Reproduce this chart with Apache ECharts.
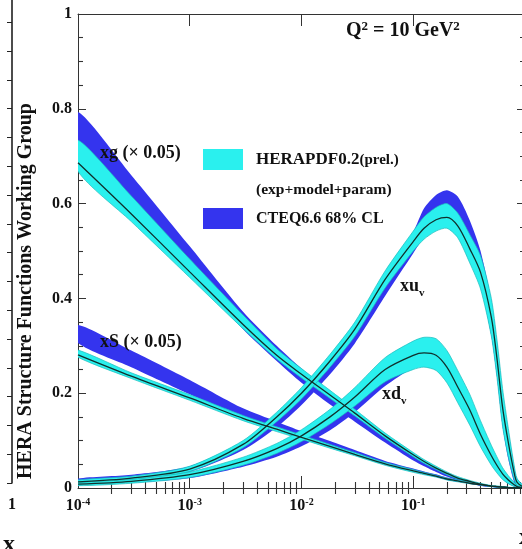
<!DOCTYPE html>
<html>
<head>
<meta charset="utf-8">
<script src="https://cdn.jsdelivr.net/npm/echarts@6/dist/echarts.min.js"></script>
<style>
html, body { margin: 0; padding: 0; background: #fff; }
#chart { width: 522px; height: 549px; }
</style>
</head>
<body>
<div id="chart"></div>
<script>
// Parton momentum distributions at Q^2 = 10 GeV^2, sampled on a common x grid
const xs = [0.0001, 0.0003, 0.001, 0.003, 0.006, 0.01, 0.018, 0.03, 0.056, 0.1, 0.125, 0.16,
            0.2, 0.25, 0.32, 0.4, 0.5, 0.56, 0.63, 0.71, 0.8, 0.85, 1.0];

// gluon, scaled by 0.05
const xgMid    = [0.686, 0.578, 0.456, 0.345, 0.28, 0.24, 0.196, 0.158, 0.11, 0.07, 0.056, 0.042, 0.031, 0.021, 0.014, 0.008, 0.004, 0.003, 0.002, 0.001, 0.0005, 0.0003, 0];
const xgHeraLo = [0.668, 0.562, 0.444, 0.336, 0.272, 0.232, 0.189, 0.152, 0.105, 0.066, 0.052, 0.039, 0.028, 0.019, 0.012, 0.007, 0.003, 0.002, 0.001, 0.0005, 0, 0, 0];
const xgHeraHi = [0.734, 0.616, 0.483, 0.365, 0.294, 0.252, 0.206, 0.166, 0.116, 0.075, 0.06, 0.046, 0.034, 0.024, 0.016, 0.01, 0.005, 0.004, 0.003, 0.0015, 0.001, 0.001, 0];
const xgCteqLo = [0.70, 0.59, 0.46, 0.335, 0.268, 0.222, 0.176, 0.14, 0.096, 0.058, 0.046, 0.034, 0.024, 0.016, 0.01, 0.005, 0.002, 0.001, 0.001, 0, 0, 0, 0];
const xgCteqHi = [0.793, 0.66, 0.51, 0.372, 0.30, 0.252, 0.202, 0.162, 0.112, 0.071, 0.057, 0.043, 0.031, 0.022, 0.014, 0.009, 0.005, 0.003, 0.002, 0.001, 0.001, 0.001, 0];

// sea, scaled by 0.05
const xsMid    = [0.281, 0.236, 0.19, 0.147, 0.124, 0.107, 0.088, 0.071, 0.051, 0.036, 0.031, 0.025, 0.019, 0.015, 0.01, 0.007, 0.004, 0.003, 0.002, 0.001, 0.0005, 0.0003, 0];
const xsHeraLo = [0.276, 0.231, 0.185, 0.142, 0.119, 0.103, 0.084, 0.068, 0.048, 0.033, 0.028, 0.023, 0.017, 0.013, 0.009, 0.006, 0.003, 0.002, 0.001, 0.0005, 0, 0, 0];
const xsHeraHi = [0.291, 0.243, 0.197, 0.153, 0.129, 0.112, 0.092, 0.075, 0.054, 0.039, 0.033, 0.027, 0.021, 0.017, 0.012, 0.008, 0.005, 0.004, 0.003, 0.0015, 0.001, 0.001, 0];
const xsCteqLo = [0.306, 0.255, 0.198, 0.15, 0.126, 0.108, 0.088, 0.07, 0.05, 0.034, 0.029, 0.023, 0.017, 0.013, 0.009, 0.005, 0.002, 0.001, 0.001, 0, 0, 0, 0];
const xsCteqHi = [0.344, 0.29, 0.228, 0.168, 0.14, 0.12, 0.099, 0.08, 0.057, 0.041, 0.035, 0.029, 0.022, 0.017, 0.012, 0.008, 0.005, 0.003, 0.002, 0.001, 0.001, 0.001, 0];

// u valence
const xuMid    = [0.013, 0.021, 0.04, 0.092, 0.15, 0.2, 0.268, 0.335, 0.44, 0.52, 0.548, 0.566, 0.571, 0.553, 0.505, 0.455, 0.36, 0.275, 0.17, 0.095, 0.032, 0.012, 0];
const xuHeraLo = [0.009, 0.017, 0.035, 0.085, 0.14, 0.188, 0.255, 0.32, 0.422, 0.50, 0.525, 0.542, 0.548, 0.528, 0.475, 0.42, 0.32, 0.235, 0.13, 0.065, 0.018, 0.005, 0];
const xuHeraHi = [0.017, 0.025, 0.046, 0.10, 0.16, 0.212, 0.282, 0.35, 0.458, 0.542, 0.572, 0.592, 0.60, 0.58, 0.535, 0.49, 0.40, 0.315, 0.21, 0.125, 0.048, 0.02, 0];
const xuCteqLo = [0.011, 0.018, 0.034, 0.08, 0.128, 0.175, 0.24, 0.305, 0.405, 0.495, 0.53, 0.555, 0.565, 0.55, 0.50, 0.43, 0.32, 0.235, 0.13, 0.06, 0.012, 0.003, 0];
const xuCteqHi = [0.02, 0.028, 0.046, 0.097, 0.15, 0.20, 0.268, 0.335, 0.44, 0.54, 0.59, 0.618, 0.628, 0.615, 0.565, 0.50, 0.395, 0.31, 0.20, 0.12, 0.045, 0.02, 0];

// d valence
const xdMid    = [0.008, 0.014, 0.028, 0.056, 0.083, 0.11, 0.15, 0.192, 0.25, 0.28, 0.285, 0.28, 0.255, 0.213, 0.165, 0.113, 0.068, 0.048, 0.03, 0.017, 0.007, 0.003, 0];
const xdHeraLo = [0.005, 0.01, 0.022, 0.048, 0.073, 0.098, 0.135, 0.173, 0.224, 0.25, 0.255, 0.248, 0.222, 0.18, 0.133, 0.087, 0.048, 0.032, 0.018, 0.009, 0.003, 0.001, 0];
const xdHeraHi = [0.011, 0.018, 0.034, 0.065, 0.094, 0.123, 0.166, 0.212, 0.275, 0.31, 0.318, 0.315, 0.29, 0.248, 0.198, 0.142, 0.09, 0.066, 0.043, 0.026, 0.012, 0.005, 0];
const xdCteqLo = [0.006, 0.011, 0.021, 0.045, 0.066, 0.088, 0.122, 0.16, 0.215, 0.255, 0.265, 0.262, 0.235, 0.19, 0.14, 0.09, 0.05, 0.033, 0.019, 0.009, 0.003, 0.001, 0];
const xdCteqHi = [0.012, 0.019, 0.033, 0.06, 0.085, 0.11, 0.148, 0.19, 0.25, 0.29, 0.30, 0.302, 0.285, 0.245, 0.19, 0.135, 0.085, 0.062, 0.04, 0.024, 0.011, 0.005, 0];

// minor tick positions of the log x axis (2..9 in each decade), as decade exponents
const minorTickExp = [];
for (let e = -4; e < 0; e++) {
  for (let m = 2; m <= 9; m++) minorTickExp.push(e + Math.log10(m));
}

const FONT = 'Liberation Serif';
const CYAN = '#2af0ee';
const BLUE = '#3434ee';
const EDGE = '#1cbcbc';
const AXIS = '#333';

const chart = echarts.init(document.getElementById('chart'), null, { renderer: 'canvas' });

// One filled band between lo and hi, drawn as a single polygon in data coordinates
function band(lo, hi, color, z, edge) {
  return {
    type: 'custom', silent: true, z: z, clip: true,
    data: [[xs[0], lo[0], hi[0]]],
    renderItem: function (params, api) {
      const upper = xs.map((x, i) => api.coord([x, hi[i]]));
      const lower = xs.map((x, i) => api.coord([x, lo[i]])).reverse();
      const pts = [];
      upper.concat(lower).forEach(p => {
        const q = pts[pts.length - 1];
        if (!q || Math.abs(q[0] - p[0]) > 0.01 || Math.abs(q[1] - p[1]) > 0.01) pts.push(p);
      });
      return {
        type: 'polygon',
        shape: { points: pts, smooth: 0.25 },
        style: { fill: color, stroke: edge || null, lineWidth: edge ? 0.7 : 0 }
      };
    }
  };
}

function central(mid) {
  return {
    type: 'line', symbol: 'none', smooth: 0.3, silent: true, z: 6,
    data: xs.map((x, i) => [x, mid[i]]),
    lineStyle: { color: '#10302c', width: 1.3 }
  };
}

const series = [
  band(xgCteqLo, xgCteqHi, BLUE, 2),
  band(xsCteqLo, xsCteqHi, BLUE, 2),
  band(xuCteqLo, xuCteqHi, BLUE, 2),
  band(xdCteqLo, xdCteqHi, BLUE, 2),
  band(xgHeraLo, xgHeraHi, CYAN, 3, EDGE),
  band(xsHeraLo, xsHeraHi, CYAN, 3, EDGE),
  band(xuHeraLo, xuHeraHi, CYAN, 3, EDGE),
  band(xdHeraLo, xdHeraHi, CYAN, 3, EDGE),
  central(xgMid), central(xsMid), central(xuMid), central(xdMid)
];

const boldText = { fontFamily: FONT, fontWeight: 'bold', color: '#111' };

function logAxis(position, withLabels) {
  return {
    type: 'log', logBase: 10, min: 0.0001, max: 1, gridIndex: 0, position: position,
    axisLine: { show: true, onZero: false, lineStyle: { color: AXIS, width: 1 } },
    axisTick: { show: true, inside: true, length: 12, lineStyle: { color: AXIS } },
    splitLine: { show: false },
    axisLabel: withLabels ? {
      margin: 9,
      formatter: function (v) {
        const e = Math.round(Math.log10(v));
        if (e === 0) return '';
        return '{b|10}{s|' + e + '}';
      },
      rich: {
        b: { fontFamily: FONT, fontWeight: 'bold', fontSize: 16, color: '#111', lineHeight: 18 },
        s: { fontFamily: FONT, fontWeight: 'bold', fontSize: 10, color: '#111', verticalAlign: 'top', lineHeight: 18 }
      }
    } : { show: false }
  };
}

// decade-exponent axis sharing the same pixel span, used only for the small log ticks
function minorAxis(position) {
  return {
    type: 'value', min: -4, max: 0, gridIndex: 0, position: position,
    axisLine: { show: false },
    axisTick: { show: true, inside: true, length: 6, customValues: minorTickExp, lineStyle: { color: AXIS, width: 1.1 } },
    axisLabel: { show: false },
    splitLine: { show: false }
  };
}

const option = {
  animation: false,
  backgroundColor: '#fff',
  grid: [
    { left: 78, top: 14, width: 447, height: 474, containLabel: false, outerBoundsMode: 'none' },
    { left: -400, top: -6.6, width: 412, height: 489.6, containLabel: false, outerBoundsMode: 'none' }
  ],
  xAxis: [
    logAxis('bottom', true),
    logAxis('top', false),
    { type: 'value', gridIndex: 1, show: false, min: 0, max: 1 },
    minorAxis('bottom'),
    minorAxis('top')
  ],
  yAxis: [
    {
      type: 'value', min: 0, max: 1, interval: 0.2, gridIndex: 0, position: 'left',
      axisLine: { show: true, onZero: false, lineStyle: { color: AXIS, width: 1 } },
      axisTick: { show: true, inside: true, length: 8, lineStyle: { color: AXIS } },
      minorTick: { show: true, splitNumber: 4, length: 5, lineStyle: { color: AXIS, width: 1.1 } },
      splitLine: { show: false },
      axisLabel: Object.assign({
        fontSize: 16, margin: 6,
        formatter: function (v) { return (v === 0 || v === 1) ? String(v) : v.toFixed(1); }
      }, boldText)
    },
    {
      type: 'value', min: 0, max: 1, interval: 0.2, gridIndex: 0, position: 'right',
      axisLine: { show: true, onZero: false, lineStyle: { color: AXIS, width: 1 } },
      axisTick: { show: true, inside: true, length: 8, lineStyle: { color: AXIS } },
      minorTick: { show: true, splitNumber: 4, length: 5, lineStyle: { color: AXIS, width: 1.1 } },
      splitLine: { show: false },
      axisLabel: { show: false }
    },
    {
      type: 'value', min: 0, max: 17, interval: 1, gridIndex: 1, position: 'right',
      axisLine: { show: true, onZero: false, lineStyle: { color: '#111', width: 1.5 } },
      axisTick: { show: true, inside: true, length: 5, lineStyle: { color: '#222' } },
      splitLine: { show: false },
      axisLabel: { show: false }
    },
    {
      type: 'value', min: 0, max: 17, gridIndex: 1, position: 'right',
      axisLine: { show: false },
      axisTick: { show: true, inside: true, length: 9, customValues: [1, 4, 7, 10, 13, 16], lineStyle: { color: '#222' } },
      splitLine: { show: false },
      axisLabel: { show: false }
    }
  ],
  series: series.map(s => Object.assign({ xAxisIndex: 0, yAxisIndex: 0 }, s)),
  graphic: [
    // neighbouring panel labels
    { type: 'text', x: 12, y: 505, style: { text: '1', fontSize: 16, fontFamily: FONT, fontWeight: 'bold', fill: '#111', align: 'center', verticalAlign: 'middle' } },
    { type: 'text', x: 9, y: 545, style: { text: 'x', fontSize: 24, fontFamily: FONT, fontWeight: 'bold', fill: '#111', align: 'center', verticalAlign: 'middle' } },
    { type: 'text', x: 525, y: 538, style: { text: 'x', fontSize: 24, fontFamily: FONT, fontWeight: 'bold', fill: '#111', align: 'center', verticalAlign: 'middle' } },
    // vertical group title
    {
      type: 'text', x: 26, y: 291, rotation: Math.PI / 2,
      style: { text: 'HERA Structure Functions Working Group', fontSize: 20, fontFamily: FONT, fontWeight: 'bold', fill: '#111', align: 'center', verticalAlign: 'middle' }
    },
    // scale
    {
      type: 'text', x: 346, y: 31,
      style: {
        text: '{t|Q}{s|2}{t| = 10 GeV}{s|2}', verticalAlign: 'middle', align: 'left',
        rich: {
          t: { fontSize: 20, fontFamily: FONT, fontWeight: 'bold', fill: '#111', lineHeight: 22 },
          s: { fontSize: 13, fontFamily: FONT, fontWeight: 'bold', fill: '#111', verticalAlign: 'top', lineHeight: 22 }
        }
      }
    },
    // legend
    { type: 'rect', shape: { x: 203, y: 149, width: 40, height: 21 }, style: { fill: CYAN } },
    { type: 'rect', shape: { x: 203, y: 208, width: 40, height: 21 }, style: { fill: BLUE } },
    {
      type: 'text', x: 256, y: 160,
      style: {
        text: '{a|HERAPDF0.2}{b|(prel.)}', verticalAlign: 'middle', align: 'left',
        rich: {
          a: { fontSize: 17, fontFamily: FONT, fontWeight: 'bold', fill: '#111' },
          b: { fontSize: 15, fontFamily: FONT, fontWeight: 'bold', fill: '#111' }
        }
      }
    },
    { type: 'text', x: 256, y: 190, style: { text: '(exp+model+param)', fontSize: 15.5, fontFamily: FONT, fontWeight: 'bold', fill: '#111', verticalAlign: 'middle', align: 'left' } },
    { type: 'text', x: 256, y: 219, style: { text: 'CTEQ6.6 68% CL', fontSize: 16, fontFamily: FONT, fontWeight: 'bold', fill: '#111', verticalAlign: 'middle', align: 'left' } },
    // curve labels
    { type: 'text', x: 100, y: 153, z: 20, style: { text: 'xg (× 0.05)', fontSize: 18, fontFamily: FONT, fontWeight: 'bold', fill: '#111', verticalAlign: 'middle', align: 'left' } },
    { type: 'text', x: 100, y: 342, z: 20, style: { text: 'xS (× 0.05)', fontSize: 18, fontFamily: FONT, fontWeight: 'bold', fill: '#111', verticalAlign: 'middle', align: 'left' } },
    {
      type: 'text', x: 400, y: 286, z: 20,
      style: {
        text: '{a|xu}{b|v}', verticalAlign: 'middle', align: 'left',
        rich: {
          a: { fontSize: 18, fontFamily: FONT, fontWeight: 'bold', fill: '#111', lineHeight: 20 },
          b: { fontSize: 11, fontFamily: FONT, fontWeight: 'bold', fill: '#111', verticalAlign: 'bottom', lineHeight: 26 }
        }
      }
    },
    {
      type: 'text', x: 382, y: 394, z: 20,
      style: {
        text: '{a|xd}{b|v}', verticalAlign: 'middle', align: 'left',
        rich: {
          a: { fontSize: 18, fontFamily: FONT, fontWeight: 'bold', fill: '#111', lineHeight: 20 },
          b: { fontSize: 11, fontFamily: FONT, fontWeight: 'bold', fill: '#111', verticalAlign: 'bottom', lineHeight: 26 }
        }
      }
    }
  ]
};

chart.setOption(option);
</script>
</body>
</html>
